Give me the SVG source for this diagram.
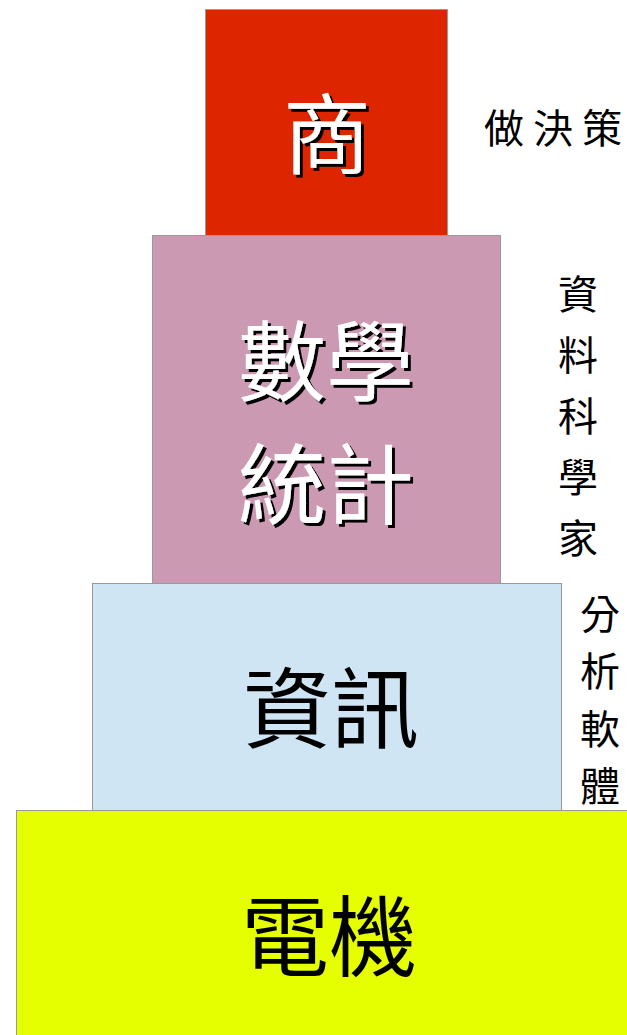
<svg xmlns="http://www.w3.org/2000/svg" width="627" height="1035" viewBox="0 0 627 1035">
<defs>
<filter id="shadow" x="-10%" y="-10%" width="130%" height="130%">
<feOffset in="SourceAlpha" dx="3" dy="3" result="off"/>
<feFlood flood-color="#000000"/>
<feComposite in2="off" operator="in" result="sh"/>
<feMerge><feMergeNode in="sh"/><feMergeNode in="SourceGraphic"/></feMerge>
</filter>
</defs>
<style>
.box{stroke:#999999;stroke-width:1}
.big{font-family:"Noto Sans CJK TC","Noto Sans CJK SC",sans-serif;font-size:88px;text-anchor:middle;dominant-baseline:central}
.w{fill:#ffffff;filter:url(#shadow)}
.k{fill:#000000}
.side{font-family:"Noto Sans CJK TC","Noto Sans CJK SC",sans-serif;font-size:40px;fill:#000000;text-anchor:middle;dominant-baseline:central}
</style>
<rect width="627" height="1035" fill="#ffffff"/>
<g id="node-dianji">
<rect class="box" x="16.5" y="810.5" width="620" height="240" fill="#E5FF00"/>
<text class="big k" x="329" y="930">電機</text>
</g>
<g id="node-zixun">
<rect class="box" x="92.5" y="583.5" width="469" height="227" fill="#CFE5F3"/>
<text class="big k" x="331" y="702">資訊</text>
</g>
<g id="node-shuxue">
<rect class="box" x="152.5" y="235.5" width="348" height="348" fill="#CC99B2"/>
<text class="big w" x="326" y="355">數學</text>
<text class="big w" x="326" y="478">統計</text>
</g>
<g id="node-shang">
<rect class="box" x="205.5" y="9.5" width="242" height="226" fill="#DD2600"/>
<text class="big w" x="327" y="128">商</text>
</g>
<g id="label-decision">
<text class="side" x="504" y="126">做</text>
<text class="side" x="553" y="126">決</text>
<text class="side" x="602" y="126">策</text>
</g>
<g id="label-datasci">
<text class="side" x="578" y="292">資</text>
<text class="side" x="578" y="353">料</text>
<text class="side" x="578" y="414">科</text>
<text class="side" x="578" y="475">學</text>
<text class="side" x="578" y="536">家</text>
</g>
<g id="label-software">
<text class="side" x="600" y="612">分</text>
<text class="side" x="600" y="669">析</text>
<text class="side" x="600" y="727">軟</text>
<text class="side" x="600" y="784">體</text>
</g>
<g id="connectors"></g>
</svg>
